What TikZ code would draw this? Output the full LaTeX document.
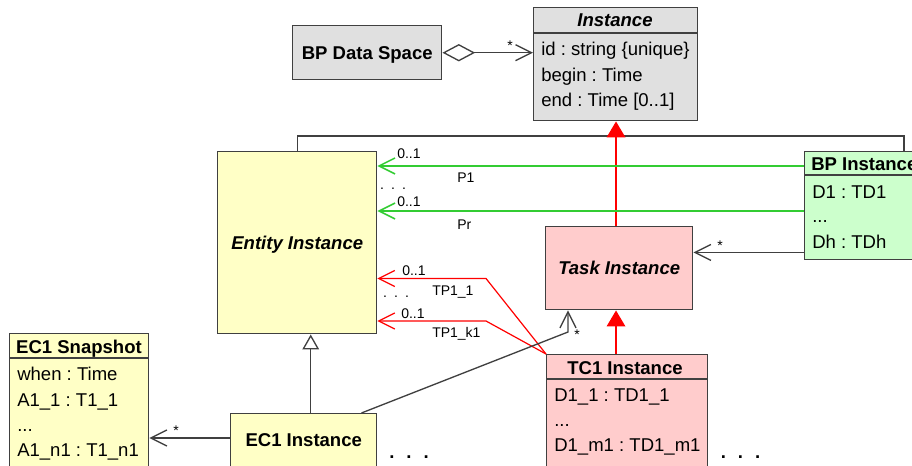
\documentclass[tikz,border=0pt]{standalone}
\usepackage{fontspec}
\setmainfont{Liberation Sans}
\usepackage{xcolor}
\usetikzlibrary{arrows.meta}
\frenchspacing

\definecolor{umlline}{RGB}{64,64,64}
\definecolor{umlgray}{RGB}{224,224,224}
\definecolor{umlyellow}{RGB}{255,255,198}
\definecolor{umlpink}{RGB}{255,204,204}
\definecolor{umlgreen}{RGB}{204,255,204}
\definecolor{linkgreen}{RGB}{51,204,51}
\newcommand{\umlsize}{\fontsize{13.9}{16}\selectfont}
\newcommand{\lblsize}{\fontsize{10.5}{12}\selectfont}

\begin{document}
\begin{tikzpicture}[x=0.75pt, y=-0.75pt, font=\umlsize,
    cls/.style={draw=umlline, line width=1.1pt, inner sep=0pt, anchor=north west},
    ttl/.style={font=\umlsize\bfseries, anchor=base, inner sep=0pt},
    attr/.style={font=\umlsize, anchor=base west, inner sep=0pt},
    lbl/.style={font=\lblsize, anchor=base west, inner sep=0pt},
    mult/.style={font=\lblsize, anchor=base, inner sep=0pt},
    sdots/.style={font=\lblsize, anchor=base, inner sep=0pt},
    bdots/.style={font=\umlsize\bfseries, anchor=base, inner sep=0pt},
    sep/.style={draw=umlline, line width=1.1pt},
    navi/.style={draw=umlline, line width=1pt, -{Straight Barb[length=12pt, width=12pt]}},
    plink/.style={navi, draw=linkgreen, line width=1.1pt},
    tplink/.style={navi, draw=red, line width=0.9pt},
    genl/.style={draw=umlline, line width=1pt},
    redgen/.style={draw=red, line width=1pt, -{Triangle[length=12pt, width=14pt]}}]

    \useasboundingbox (0,0) rectangle (912,466);
    \clip (0,0) rectangle (912,466);

    % classes
    \node[cls, fill=umlgray, minimum width=111.75pt, minimum height=40.5pt,
          font=\umlsize\bfseries, text depth=0pt] (dspace) at (292,25) {BP Data Space};

    \node[cls, fill=umlgray, minimum width=123pt, minimum height=84.75pt] (inst) at (533,7) {};
    \path (inst.north west) ++(0,26) coordinate (instsep);
    \draw[sep] (instsep) -- (instsep -| inst.east);
    \node[ttl, font=\umlsize\bfseries\itshape] (instt) at (615,27) {Instance};
    \node[attr] (insta) at (541,56) {id : string \{unique\}};
    \node[attr] (instb) at (541,81.5) {begin : Time};
    \node[attr] (instc) at (541,107) {end : Time [0..1]};

    \node[cls, fill=umlyellow, minimum width=119.25pt, minimum height=136.5pt,
          font=\umlsize\bfseries\itshape, text depth=0pt] (entity) at (217,151) {Entity Instance};

    \node[cls, fill=umlpink, minimum width=110.25pt, minimum height=62.25pt,
          font=\umlsize\bfseries\itshape, text depth=0pt] (task) at (545,226) {Task Instance};

    \node[cls, fill=umlgreen, minimum width=88.5pt, minimum height=81pt] (bpi) at (804,151) {};
    \path (bpi.north west) ++(0,24) coordinate (bpisep);
    \draw[sep] (bpisep) -- (bpisep -| bpi.east);
    \node[ttl, anchor=base west] (bpit) at (811,170.5) {BP Instance};
    \node[attr] (bpia) at (812,198.5) {D1 : TD1};
    \node[attr] (bpib) at (812,223) {...};
    \node[attr] (bpic) at (812,249) {Dh : TDh};

    \node[cls, fill=umlpink, minimum width=120.75pt, minimum height=87pt] (tc1) at (546,354) {};
    \path (tc1.north west) ++(0,25) coordinate (tc1sep);
    \draw[sep] (tc1sep) -- (tc1sep -| tc1.east);
    \node[ttl] (tc1t) at (625,374) {TC1 Instance};
    \node[attr] (tc1a) at (554,401) {D1\_1 : TD1\_1};
    \node[attr] (tc1b) at (554,426.5) {...};
    \node[attr] (tc1c) at (554,451.5) {D1\_m1 : TD1\_m1};

    \node[cls, fill=umlyellow, minimum width=104.25pt, minimum height=102.75pt] (snap) at (9,333) {};
    \path (snap.north west) ++(0,25) coordinate (snapsep);
    \draw[sep] (snapsep) -- (snapsep -| snap.east);
    \node[ttl] (snapt) at (79,353) {EC1 Snapshot};
    \node[attr] (snapa) at (17,380.5) {when : Time};
    \node[attr] (snapb) at (17,406) {A1\_1 : T1\_1};
    \node[attr] (snapc) at (17,431.5) {...};
    \node[attr] (snapd) at (17,456.5) {A1\_n1 : T1\_n1};

    \node[cls, fill=umlyellow, minimum width=109.5pt, minimum height=42.75pt,
          font=\umlsize\bfseries, text depth=3pt] (ec1) at (230,413) {EC1 Instance};

    % aggregation
    \draw[navi, {Diamond[open, length=24.5pt, width=13pt]}-{Straight Barb[length=12pt, width=12pt]}]
        (dspace.east) -- (dspace.east -| inst.west);
    \node[mult] (dsm) at (510,51) {*};

    % generalization to Instance
    \coordinate (gj) at (616,136);
    \coordinate (bptop) at (904,151);
    \draw[genl] (entity.north) |- (gj) -| (bptop);
    \draw[redgen] (task.north -| gj) -- (inst.south -| gj);
    \draw[redgen] (tc1.north -| gj) -- (task.south -| gj);

    % process links
    \path (bpi.north west) ++(0,15) coordinate (p1) ++(0,45) coordinate (pr);
    \draw[plink] (p1) -- (p1 -| entity.east);
    \draw[plink] (pr) -- (pr -| entity.east);
    \node[lbl] (p1m) at (397,159) {0..1};
    \node[lbl] (p1n) at (457,182.3) {P1};
    \node[sdots] (pdots) at (393,189.5) {.\hspace{5.3pt}.\hspace{5.3pt}.};
    \node[lbl] (prm) at (397,206.5) {0..1};
    \node[lbl] (prn) at (457,230) {Pr};

    % task links
    \coordinate (tpa) at (486,278.5);
    \coordinate (tpb) at (486,321);
    \draw[tplink] (tc1.north west) -- (tpa) -- (tpa -| entity.east);
    \draw[tplink] (tc1.north west) -- (tpb) -- (tpb -| entity.east);
    \node[lbl] (tpam) at (402,275.7) {0..1};
    \node[lbl] (tpan) at (432,295.5) {TP1\_1};
    \node[sdots] (tdots) at (396,297.5) {.\hspace{5.3pt}.\hspace{5.3pt}.};
    \node[lbl] (tpbm) at (401,318) {0..1};
    \node[lbl] (tpbn) at (432,337) {TP1\_k1};

    % BP instance to task
    \path (bpi.south west) ++(0,-8) coordinate (bt);
    \draw[navi] (bt) -- (bt -| task.east);
    \node[mult] (btm) at (720,251) {*};

    % EC1 instance to task
    \coordinate (ek) at (568,332);
    \path (ec1.north east) ++(-16,0) coordinate (es);
    \draw[navi] (es) -- (ek) -- (ek |- task.south);
    \node[mult] (ekm) at (577,339) {*};

    % EC1 instance to snapshot
    \path (ec1.north west) ++(0,25) coordinate (ss);
    \draw[navi] (ss) -- (ss -| snap.east);
    \node[mult] (ssm) at (176,435) {*};

    % EC1 instance is an entity instance
    \path (ec1.north) ++(7,0) coordinate (eg);
    \draw[genl, -{Triangle[open, length=11.25pt, width=12.5pt]}] (eg) -- (eg |- entity.south);

    \node[bdots] (edots) at (409,458) {.\hspace{9pt}.\hspace{9pt}.};
    \node[bdots] (cdots) at (740.5,458) {.\hspace{9pt}.\hspace{9pt}.};

\end{tikzpicture}
\end{document}
